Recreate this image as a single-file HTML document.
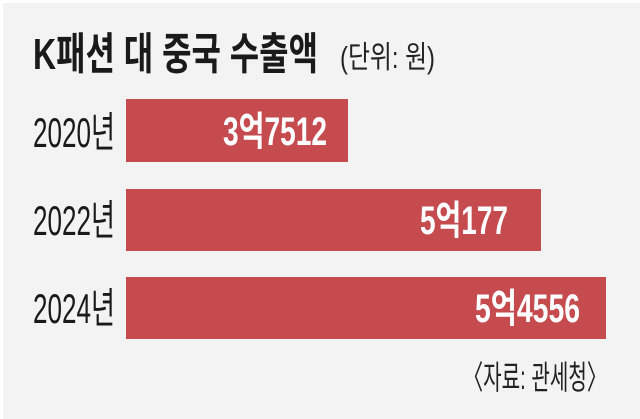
<!DOCTYPE html>
<html><head><meta charset="utf-8"><style>
html,body{margin:0;padding:0;background:#fff}
svg{display:block}
</style></head><body>
<svg width="640" height="419" xmlns="http://www.w3.org/2000/svg" font-family="'Liberation Sans','Noto Sans CJK KR',sans-serif">
<rect x="3" y="3" width="637" height="416" fill="#f3f3f3"/>
<text x="33" y="69" font-size="44" font-weight="bold" fill="#1a1a1a" textLength="285" lengthAdjust="spacingAndGlyphs">K패션 대 중국 수출액</text>
<text x="340" y="68" font-size="31" fill="#222" textLength="95" lengthAdjust="spacingAndGlyphs">(단위: 원)</text>
<rect x="126" y="99" width="222" height="63" fill="#c64b4f"/>
<rect x="126" y="189" width="415" height="62" fill="#c64b4f"/>
<rect x="126" y="277" width="480" height="62" fill="#c64b4f"/>
<g font-size="42" fill="#1a1a1a">
<text x="33" y="147" textLength="82" lengthAdjust="spacingAndGlyphs">2020년</text>
<text x="33" y="235" textLength="82" lengthAdjust="spacingAndGlyphs">2022년</text>
<text x="33" y="323" textLength="82" lengthAdjust="spacingAndGlyphs">2024년</text>
</g>
<g font-size="40" font-weight="bold" fill="#fff">
<text x="223" y="145" textLength="104" lengthAdjust="spacingAndGlyphs">3억7512</text>
<text x="420" y="234" textLength="88" lengthAdjust="spacingAndGlyphs">5억177</text>
<text x="475" y="322" textLength="105" lengthAdjust="spacingAndGlyphs">5억4556</text>
</g>
<text x="463" y="389" font-size="33" fill="#222" textLength="144" lengthAdjust="spacingAndGlyphs">〈자료: 관세청〉</text>
</svg>
</body></html>
